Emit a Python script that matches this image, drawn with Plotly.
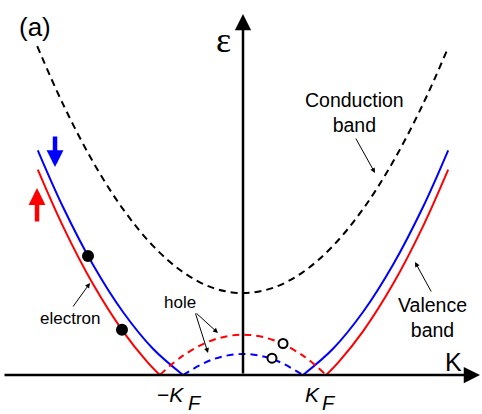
import plotly.graph_objects as go

# ---- data (k in units of blue K_F, energy in arbitrary units) ----
k_cond = [-3.43, -3.0, -2.5, -2.0, -1.5, -1.0, -0.5, 0.0, 0.5, 1.0, 1.5, 2.0, 2.5, 3.0, 3.4]
e_cond = [15.66, 12.9, 10.15, 7.9, 6.15, 4.9, 4.15, 3.9, 4.15, 4.9, 6.15, 7.9, 10.15, 12.9, 15.46]

k_blue_left = [-3.42, -3.0, -2.5, -2.0, -1.5, -1.0]
e_blue_left = [10.7, 8.0, 5.25, 3.0, 1.25, 0.0]
k_blue_right = [1.0, 1.5, 2.0, 2.5, 3.0, 3.42]
e_blue_right = [0.0, 1.25, 3.0, 5.25, 8.0, 10.7]

k_red_left = [-3.42, -3.0, -2.5, -2.0, -1.6, -1.386]
e_red_left = [9.78, 7.08, 4.33, 2.08, 0.64, 0.0]
k_red_right = [1.386, 1.6, 2.0, 2.5, 3.0, 3.42]
e_red_right = [0.0, 0.64, 2.08, 4.33, 7.08, 9.78]

k_blue_hole = [-1.0, -0.5, 0.0, 0.5, 1.0]
e_blue_hole = [0.0, 0.75, 1.0, 0.75, 0.0]
k_red_hole = [-1.386, -1.0, -0.5, 0.0, 0.5, 1.0, 1.386]
e_red_hole = [0.0, 0.92, 1.67, 1.92, 1.67, 0.92, 0.0]

k_electrons = [-2.583, -2.017]
e_electrons = [5.67, 2.15]
k_holes = [0.667, 0.483]
e_holes = [1.5, 0.8]

BLUE = "rgb(0,0,255)"
RED = "rgb(255,0,0)"
DASH = "7px,5px"

fig = go.Figure()

def curve(k, e, color, dash="solid"):
    fig.add_trace(go.Scatter(x=k, y=e, mode="lines",
                             line=dict(color=color, width=2, dash=dash, shape="spline", smoothing=1),
                             hoverinfo="skip", showlegend=False))

curve(k_cond, e_cond, "black", DASH)
curve(k_blue_left, e_blue_left, BLUE)
curve(k_blue_right, e_blue_right, BLUE)
curve(k_red_left, e_red_left, RED)
curve(k_red_right, e_red_right, RED)
curve(k_red_hole, e_red_hole, RED, DASH)
curve(k_blue_hole, e_blue_hole, BLUE, DASH)

fig.add_trace(go.Scatter(x=k_electrons, y=e_electrons, mode="markers",
                         marker=dict(color="black", size=12), showlegend=False, hoverinfo="skip"))
fig.add_trace(go.Scatter(x=k_holes, y=e_holes, mode="markers",
                         marker=dict(color="white", size=9, line=dict(color="black", width=2)),
                         showlegend=False, hoverinfo="skip"))

ann = []

def arrow(x0, y0, x1, y1, width=1, head=2, size=1.0, color="black"):
    ann.append(dict(x=x1, y=y1, ax=x0, ay=y0, xref="x", yref="y", axref="x", ayref="y",
                    text="", showarrow=True, arrowhead=head, arrowsize=size,
                    arrowwidth=width, arrowcolor=color, standoff=0, startstandoff=0))

def text(x, y, s, size, family="Liberation Sans, Arial, sans-serif", xanchor="center"):
    ann.append(dict(x=x, y=y, xref="x", yref="y", text=s, showarrow=False,
                    font=dict(size=size, family=family, color="black"),
                    xanchor=xanchor, yanchor="middle"))

# axes with arrowheads
arrow(-4.0, 0.0, 3.95, 0.0, width=2.5, head=2, size=1.3)
arrow(0.0, 0.0, 0.0, 17.19, width=2.5, head=2, size=1.3)

# spin arrows
arrow(-3.133, 11.43, -3.133, 9.905, width=4.5, head=2, size=0.75, color=BLUE)
arrow(-3.433, 7.238, -3.433, 8.905, width=4.5, head=2, size=0.75, color=RED)

# label arrows
arrow(1.867, 11.33, 2.2, 9.62, width=1)
arrow(3.15, 3.905, 2.867, 5.38, width=1)
arrow(-0.8, 3.0, -0.417, 2.0, width=1)
arrow(-0.8, 3.0, -0.583, 1.05, width=1)
arrow(-2.85, 3.19, -2.55, 4.38, width=1)

text(-3.467, 16.57, "(a)", 26)
text(-0.317, 15.95, "ε", 36, family="Liberation Serif, Times New Roman, serif")
text(3.5, 0.62, "K", 25)
text(1.85, 12.52, "Conduction<br>band", 19.5)
text(3.15, 2.76, "Valence<br>band", 19.5)
text(-1.05, 3.476, "hole", 17)
text(-2.883, 2.67, "electron", 17)
text(-1.21, -0.93, "−<i>K</i>", 21)
text(-0.95, -1.33, "<i>F</i>", 20, xanchor="left")
text(1.15, -0.93, "<i>K</i>", 21)
text(1.28, -1.33, "<i>F</i>", 20, xanchor="left")

fig.update_layout(
    width=482, height=414, margin=dict(l=0, r=0, t=0, b=0),
    paper_bgcolor="white", plot_bgcolor="white",
    xaxis=dict(range=[-243/60, 239/60], visible=False, fixedrange=True),
    yaxis=dict(range=[(375-414)/21, 375/21], visible=False, fixedrange=True),
    annotations=ann, showlegend=False,
)

fig.write_html("out.html")
